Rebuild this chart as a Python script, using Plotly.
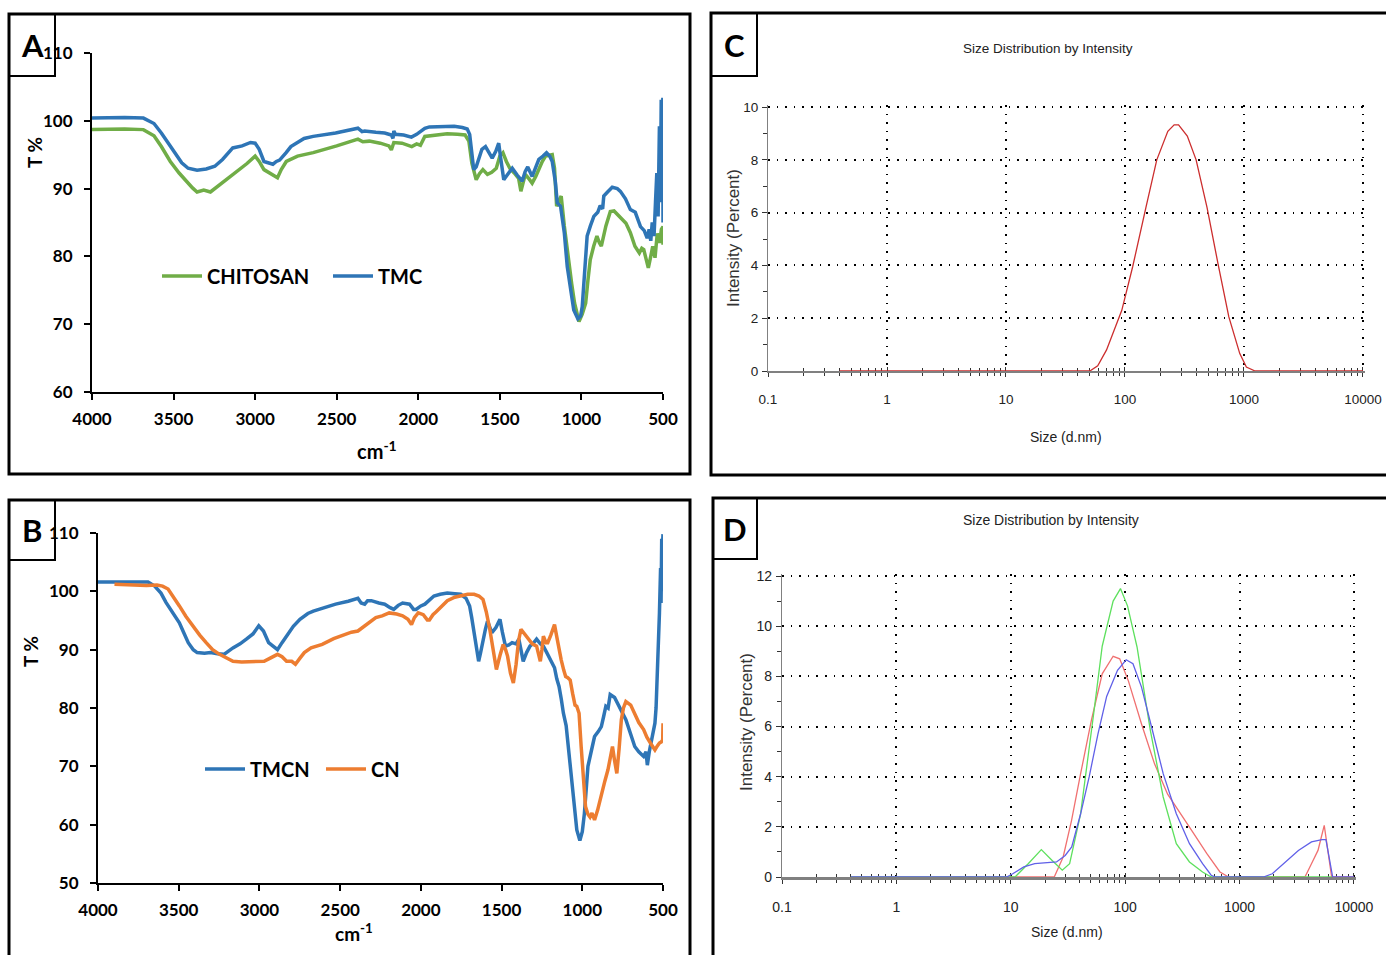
import plotly.graph_objects as go

W, H = 1386, 955

# ---------------- Panel A : FTIR chitosan / TMC ----------------
A_TMC_WN = [4000, 3800, 3685, 3620, 3575, 3530, 3493, 3450, 3411, 3356, 3300, 3247, 3200, 3137, 3080, 3028,
            3000, 2975, 2946, 2915, 2891, 2870, 2850, 2810, 2781, 2700, 2644, 2507, 2400, 2370, 2345, 2329,
            2260, 2206, 2165, 2155, 2150, 2140, 2090, 2042, 2010, 1987, 1960, 1932, 1850, 1780, 1730, 1700,
            1685, 1672, 1660, 1645, 1631, 1610, 1588, 1565, 1547, 1525, 1507, 1495, 1476, 1455, 1424, 1394,
            1363, 1345, 1329, 1302, 1280, 1261, 1235, 1214, 1195, 1179, 1160, 1148, 1128, 1105, 1087, 1065,
            1047, 1022, 1005, 995, 980, 965, 945, 924, 900, 885, 870, 863, 840, 811, 780, 761, 730, 700, 670,
            638, 615, 597, 585, 575, 566, 555, 546, 538, 530, 522, 516, 511, 505, 501, 500]
A_TMC_T = [100.4, 100.5, 100.4, 99.6, 98.2, 96.6, 95.3, 93.8, 93.0, 92.7, 92.9, 93.3, 94.3, 96.0, 96.3, 96.8,
           96.7, 95.8, 94.0, 93.7, 93.6, 94.0, 94.2, 95.3, 96.2, 97.4, 97.7, 98.2, 98.7, 98.9, 98.4, 98.5,
           98.3, 98.2, 97.9, 97.4, 98.5, 98.0, 97.9, 97.6, 98.0, 98.4, 98.9, 99.1, 99.2, 99.2, 99.0, 98.8,
           98.0, 95.5, 92.8, 93.2, 94.2, 95.8, 96.2, 95.2, 94.5, 95.5, 96.7, 94.5, 91.3, 92.0, 93.0, 92.0,
           91.1, 92.5, 93.2, 91.8, 93.0, 94.3, 94.8, 95.3, 94.8, 94.0, 91.0, 87.9, 87.4, 83.5, 78.5, 74.5,
           72.1, 70.8, 71.2, 72.6, 77.5, 83.0, 84.5, 85.9, 86.5, 87.5, 87.0, 88.9, 89.5, 90.2, 90.0, 89.6,
           88.5, 86.9, 86.5, 84.4, 83.8, 82.7, 84.0, 82.3, 85.0, 83.0, 88.0, 92.3, 85.9, 99.2, 88.0, 103.1,
           95.0, 103.4, 85.0]

A_CHI_WN = [4000, 3800, 3685, 3620, 3575, 3520, 3466, 3420, 3384, 3356, 3315, 3274, 3230, 3192, 3150, 3110,
            3050, 3000, 2975, 2946, 2900, 2863, 2840, 2809, 2740, 2644, 2500, 2370, 2340, 2300, 2233, 2180,
            2165, 2150, 2100, 2040, 2010, 1987, 1960, 1900, 1823, 1760, 1713, 1690, 1672, 1645, 1625, 1604,
            1576, 1550, 1522, 1500, 1481, 1460, 1439, 1412, 1385, 1371, 1358, 1344, 1320, 1302, 1280, 1261,
            1240, 1220, 1179, 1165, 1152, 1138, 1124, 1105, 1083, 1060, 1042, 1015, 995, 974, 960, 946, 925,
            905, 890, 878, 850, 823, 800, 782, 750, 727, 700, 672, 645, 630, 618, 600, 590, 575, 563, 549,
            535, 520, 510, 500, 500]
A_CHI_T = [98.7, 98.8, 98.7, 97.8, 96.2, 94.0, 92.3, 91.0, 90.1, 89.5, 89.8, 89.5, 90.3, 91.1, 91.8, 92.5,
           93.7, 94.8, 94.0, 92.8, 92.2, 91.6, 92.8, 94.0, 94.8, 95.3, 96.3, 97.3, 96.9, 97.0, 96.7, 96.3,
           95.7, 96.8, 96.7, 96.2, 96.6, 96.4, 97.7, 97.9, 98.1, 98.0, 97.9, 97.0, 93.8, 91.3, 92.2, 92.8,
           92.1, 92.4, 93.0, 94.8, 95.3, 94.0, 93.0, 92.3, 91.5, 89.6, 91.0, 92.1, 91.4, 90.8, 91.8, 93.0,
           94.0, 94.8, 95.0, 93.0, 87.4, 88.2, 88.9, 84.5, 80.0, 76.0, 73.1, 70.4, 71.5, 73.1, 76.5, 79.5,
           81.5, 83.0, 82.0, 81.5, 84.5, 86.6, 86.7, 86.3, 85.5, 84.9, 83.5, 81.5, 80.5, 81.2, 81.0, 79.5,
           78.3, 80.0, 81.5, 79.8, 83.4, 82.0, 84.0, 84.4, 81.7]

# ---------------- Panel B : FTIR nanoparticles ----------------
B_TMCN_WN = [4000, 3850, 3690, 3649, 3610, 3579, 3540, 3496, 3470, 3441, 3410, 3386, 3340, 3303, 3260, 3220,
             3164, 3120, 3081, 3040, 3004, 2975, 2943, 2910, 2888, 2860, 2832, 2790, 2749, 2700, 2666, 2600,
             2528, 2450, 2390, 2370, 2348, 2330, 2307, 2260, 2224, 2190, 2168, 2140, 2113, 2070, 2045, 2030,
             2000, 1975, 1940, 1919, 1880, 1836, 1790, 1753, 1720, 1698, 1685, 1670, 1656, 1642, 1630, 1615,
             1600, 1587, 1575, 1560, 1535, 1510, 1495, 1476, 1455, 1435, 1410, 1393, 1380, 1366, 1345, 1324,
             1300, 1283, 1260, 1241, 1220, 1200, 1172, 1158, 1144, 1130, 1117, 1100, 1089, 1075, 1062, 1048,
             1034, 1015, 1000, 987, 975, 965, 945, 924, 900, 882, 868, 854, 840, 827, 800, 771, 750, 730, 700,
             675, 650, 620, 605, 597, 585, 578, 565, 550, 543, 536, 529, 522, 515, 512, 508, 505, 502, 500]
B_TMCN_T = [101.6, 101.6, 101.6, 100.9, 99.7, 98.1, 96.5, 94.6, 93.0, 91.2, 90.0, 89.5, 89.4, 89.5, 89.3, 89.2,
            90.3, 91.0, 91.8, 92.7, 94.1, 93.2, 91.2, 90.5, 90.0, 91.2, 92.3, 94.0, 95.2, 96.2, 96.6, 97.2,
            97.8, 98.3, 98.8, 98.0, 97.8, 98.4, 98.4, 98.0, 97.8, 97.2, 96.9, 97.6, 98.0, 97.8, 96.9, 96.9,
            97.5, 97.8, 98.8, 99.2, 99.5, 99.7, 99.6, 99.5, 98.8, 97.5, 95.5, 92.9, 90.0, 88.0, 89.5, 91.8,
            93.5, 94.9, 94.0, 92.9, 93.8, 95.2, 93.0, 90.6, 90.8, 91.2, 91.0, 91.8, 90.0, 88.0, 89.5, 90.6,
            91.2, 91.8, 91.0, 90.6, 89.5, 88.3, 86.9, 85.0, 83.7, 81.5, 79.1, 77.0, 74.0, 70.8, 67.7, 63.0,
            59.1, 57.3, 58.8, 61.9, 66.0, 70.0, 72.5, 75.1, 76.0, 76.8, 78.5, 80.3, 80.0, 82.3, 81.8, 80.3,
            79.3, 78.0, 75.5, 73.4, 72.5, 71.7, 72.5, 70.2, 72.5, 73.4, 75.0, 77.4, 80.0, 84.9, 88.0, 96.3,
            104.0, 98.0, 109.0, 100.0, 108.5, 109.8]

B_CN_WN = [3898, 3773, 3700, 3635, 3600, 3566, 3530, 3496, 3455, 3413, 3370, 3330, 3290, 3247, 3200, 3164,
           3110, 3054, 3000, 2971, 2930, 2888, 2860, 2832, 2800, 2777, 2750, 2722, 2680, 2611, 2540, 2473,
           2430, 2390, 2340, 2279, 2240, 2196, 2150, 2113, 2080, 2058, 2040, 2016, 1985, 1960, 1947, 1925,
           1905, 1870, 1836, 1790, 1753, 1710, 1670, 1640, 1615, 1595, 1573, 1552, 1532, 1510, 1490, 1475,
           1463, 1445, 1427, 1410, 1395, 1380, 1360, 1338, 1310, 1283, 1260, 1250, 1241, 1225, 1214, 1195,
           1172, 1160, 1145, 1131, 1115, 1103, 1090, 1075, 1060, 1045, 1034, 1020, 1007, 995, 980, 965, 952,
           940, 924, 905, 882, 860, 841, 825, 813, 800, 786, 772, 758, 745, 730, 700, 675, 650, 620, 600,
           578, 565, 550, 535, 522, 510, 502, 500]
B_CN_T = [101.2, 101.1, 101.0, 101.1, 100.9, 100.4, 99.0, 97.5, 95.7, 94.1, 92.5, 91.2, 90.0, 89.2, 88.5, 88.0,
          87.9, 87.9, 88.0, 88.0, 88.6, 89.2, 88.8, 88.0, 88.0, 87.5, 88.5, 89.5, 90.3, 90.9, 91.9, 92.6,
          93.0, 93.2, 94.3, 95.5, 95.8, 96.3, 96.1, 95.8, 95.2, 94.3, 95.5, 96.3, 96.0, 95.1, 95.1, 96.0,
          96.5, 97.5, 98.4, 99.0, 99.3, 99.5, 99.5, 99.2, 98.6, 96.5, 93.5, 89.5, 86.6, 89.0, 90.9, 90.0,
          88.9, 86.0, 84.3, 87.5, 91.5, 93.5, 92.8, 91.8, 91.0, 90.6, 88.0, 90.0, 92.3, 91.2, 91.2, 92.5,
          94.3, 92.5, 90.0, 88.3, 86.5, 85.4, 85.2, 84.8, 82.5, 80.5, 80.3, 79.1, 73.4, 68.0, 63.1, 61.8, 61.3,
          62.0, 60.8, 62.5, 65.4, 67.5, 69.4, 71.5, 73.4, 71.0, 68.8, 73.0, 78.0, 80.0, 81.1, 80.5, 79.1, 77.5,
          76.3, 75.0, 74.0, 73.5, 72.8, 73.5, 74.0, 74.2, 74.5, 77.4]

# ---------------- Panel C : DLS single distribution ----------------
C_SIZE = [0.4, 50.7, 59, 70, 94, 116, 150, 185, 229, 259, 282, 334, 396, 489, 604, 746, 922, 1047, 1240, 10000]
C_INT = [0, 0, 0.2, 0.8, 2.3, 3.95, 6.2, 8.0, 9.08, 9.33, 9.33, 8.9, 8.0, 6.2, 4.08, 2.05, 0.66, 0.15, 0, 0]

# ---------------- Panel D : DLS three runs ----------------
D_RED_SIZE = [0.4, 24, 28.7, 34, 40.7, 50.7, 63, 78.5, 89.6, 107, 139, 181, 235, 293, 381, 518, 674, 803,
              3730, 4253, 4850, 5500, 6385, 10000]
D_RED_INT = [0, 0, 0.8, 2.26, 4.1, 6.25, 8.1, 8.8, 8.7, 7.8, 6.1, 4.5, 3.3, 2.66, 1.86, 0.93, 0.2, 0,
             0, 0.53, 1.06, 2.06, 0, 0]
D_GREEN_SIZE = [0.4, 10.9, 14.2, 18.5, 23, 28.2, 32.7, 40.7, 53, 63, 78.5, 91, 105, 127, 166, 215, 280, 365,
                475, 565, 6400]
D_GREEN_INT = [0, 0, 0.53, 1.09, 0.66, 0.27, 0.53, 2.5, 6.5, 9.2, 11.0, 11.5, 10.8, 9.17, 5.85, 3.19, 1.33,
               0.6, 0.2, 0, 0]
D_BLUE_SIZE = [0.4, 9.2, 10.4, 13, 16.2, 20.2, 25.1, 29.9, 34.1, 40.7, 48.5, 57.8, 68.9, 85.7, 102, 117, 139,
               173, 215, 280, 365, 475, 565, 617, 1616, 1932, 2513, 3268, 4253, 5250, 5690, 6520, 10000]
D_BLUE_INT = [0, 0, 0.13, 0.4, 0.53, 0.56, 0.6, 0.86, 1.2, 2.5, 4.0, 5.7, 7.2, 8.24, 8.66, 8.5, 7.57, 5.85,
              4.12, 2.52, 1.33, 0.53, 0.07, 0, 0, 0.13, 0.6, 1.06, 1.4, 1.49, 1.49, 0, 0]

FTIR_TICKS = [4000, 3500, 3000, 2500, 2000, 1500, 1000, 500]
LOG_TICKS = [0.1, 1, 10, 100, 1000, 10000]
LOG_TICKTEXT = ["0.1", "1", "10", "100", "1000", "10000"]
LOG_MINOR = [m * d for d in (0.1, 1, 10, 100, 1000) for m in range(2, 10)]

BLUE, GREEN, ORANGE = "#2E75B6", "#70AD47", "#ED7D31"


def X(px):
    return px / W


def Y(py):
    return 1 - py / H


BOLD = dict(family="Lato, Open Sans, sans-serif", weight="bold", color="black")
SANS = "Liberation Sans, Arial, sans-serif"

fig = go.Figure()

# Panel A traces
fig.add_trace(go.Scatter(x=A_CHI_WN, y=A_CHI_T, mode="lines", name="CHITOSAN",
                         line=dict(color=GREEN, width=3.5), xaxis="x", yaxis="y", legend="legend"))
fig.add_trace(go.Scatter(x=A_TMC_WN, y=A_TMC_T, mode="lines", name="TMC",
                         line=dict(color=BLUE, width=3.5), xaxis="x", yaxis="y", legend="legend"))
# Panel B traces
fig.add_trace(go.Scatter(x=B_TMCN_WN, y=B_TMCN_T, mode="lines", name="TMCN",
                         line=dict(color=BLUE, width=3.5), xaxis="x2", yaxis="y2", legend="legend2"))
fig.add_trace(go.Scatter(x=B_CN_WN, y=B_CN_T, mode="lines", name="CN",
                         line=dict(color=ORANGE, width=3.5), xaxis="x2", yaxis="y2", legend="legend2"))
# Panel C trace
fig.add_trace(go.Scatter(x=C_SIZE, y=C_INT, mode="lines", showlegend=False,
                         line=dict(color="#cc2e2e", width=1.3), xaxis="x3", yaxis="y3"))
# Panel D traces
fig.add_trace(go.Scatter(x=D_RED_SIZE, y=D_RED_INT, mode="lines", showlegend=False,
                         line=dict(color="#f07070", width=1.3), xaxis="x4", yaxis="y4"))
fig.add_trace(go.Scatter(x=D_GREEN_SIZE, y=D_GREEN_INT, mode="lines", showlegend=False,
                         line=dict(color="#5ee05e", width=1.3), xaxis="x4", yaxis="y4"))
fig.add_trace(go.Scatter(x=D_BLUE_SIZE, y=D_BLUE_INT, mode="lines", showlegend=False,
                         line=dict(color="#6060e8", width=1.3), xaxis="x4", yaxis="y4"))
# invisible carriers for the overlay tick axes (crossing ticks)
fig.add_trace(go.Scatter(x=C_SIZE, y=C_INT, mode="lines", showlegend=False, hoverinfo="skip",
                         line=dict(width=0), opacity=0, xaxis="x5", yaxis="y3"))
fig.add_trace(go.Scatter(x=D_BLUE_SIZE, y=D_BLUE_INT, mode="lines", showlegend=False, hoverinfo="skip",
                         line=dict(width=0), opacity=0, xaxis="x6", yaxis="y4"))


def ftir_x(domain, anchor):
    return dict(domain=domain, anchor=anchor, range=[4000, 500], autorange=False,
                tickmode="array", tickvals=FTIR_TICKS, ticks="outside", ticklen=6, tickwidth=2,
                tickcolor="black", showline=True, linecolor="black", linewidth=2, showgrid=False,
                zeroline=False, tickfont=dict(size=17, **BOLD), ticklabelstandoff=5)


def ftir_y(domain, anchor, rng, dtick):
    return dict(domain=domain, anchor=anchor, range=rng, autorange=False, dtick=dtick, tick0=rng[0],
                ticks="outside", ticklen=6, tickwidth=2, tickcolor="black", showline=True,
                linecolor="black", linewidth=2, showgrid=False, zeroline=False,
                tickfont=dict(size=17, **BOLD), ticklabelstandoff=8)


def dls_x(domain, anchor, lw, ticks, fs, pad, showlabels=True, overlay=None):
    d = dict(domain=domain, anchor=anchor, type="log", range=[-1, 4 + pad], autorange=False,
             tickmode="array", tickvals=LOG_TICKS, ticktext=LOG_TICKTEXT,
             ticks=ticks, ticklen=4, tickwidth=1, tickcolor="#333333",
             minor=dict(tickmode="array", tickvals=LOG_MINOR, ticks=ticks, ticklen=3, tickwidth=1,
                        tickcolor="#333333", showgrid=False),
             showticklabels=showlabels, zeroline=False, layer="below traces",
             tickfont=dict(family=SANS, size=fs, color="#222222"), ticklabelstandoff=11)
    if overlay:
        d.update(overlaying=overlay, showline=False, showgrid=False)
    else:
        d.update(showline=True, linecolor="#808080", linewidth=lw, showgrid=True,
                 gridcolor="black", gridwidth=1.6, griddash="1.6px,7px")
    return d


def dls_y(domain, anchor, top, pad, fs):
    return dict(domain=domain, anchor=anchor, range=[0, top + pad], autorange=False, dtick=2, tick0=0,
                ticks="outside", ticklen=5, tickwidth=1, tickcolor="#333333",
                minor=dict(dtick=1, tick0=1, ticks="outside", ticklen=4, tickwidth=1, tickcolor="#333333",
                           showgrid=False),
                showline=True, linecolor="#808080", linewidth=1.2, showgrid=True, gridcolor="black",
                gridwidth=1.6, griddash="1.6px,7px", zeroline=False, layer="below traces",
                tickfont=dict(family=SANS, size=fs, color="#222222"), ticklabelstandoff=1)


fig.update_layout(
    width=W, height=H, margin=dict(l=0, r=0, t=0, b=0, pad=0, autoexpand=False),
    paper_bgcolor="white", plot_bgcolor="rgba(0,0,0,0)",
    xaxis=ftir_x([X(92), X(663)], "y"),
    yaxis=ftir_y([Y(392), Y(53)], "x", [60, 110], 10),
    xaxis2=ftir_x([X(98), X(663)], "y2"),
    yaxis2=ftir_y([Y(883), Y(533)], "x2", [50, 110], 10),
    xaxis3=dls_x([X(768), X(1365)], "y3", 2.2, "outside", 13.5, 0.017),
    yaxis3=dls_y([Y(371), Y(105)], "x3", 10, 0.08, 13.5),
    xaxis4=dls_x([X(782), X(1356)], "y4", 3, "outside", 14, 0.018),
    yaxis4=dls_y([Y(877), Y(574)], "x4", 12, 0.08, 14),
    xaxis5=dls_x([X(768), X(1365)], "y3", 0, "inside", 13.5, 0.017, showlabels=False, overlay="x3"),
    xaxis6=dls_x([X(782), X(1356)], "y4", 0, "inside", 14, 0.018, showlabels=False, overlay="x4"),
    legend=dict(orientation="h", x=X(157), y=Y(276), xanchor="left", yanchor="middle",
                font=dict(size=20, **BOLD), bgcolor="rgba(0,0,0,0)", itemwidth=40, entrywidth=116),
    legend2=dict(orientation="h", x=X(200), y=Y(769), xanchor="left", yanchor="middle",
                 font=dict(size=20, **BOLD), bgcolor="rgba(0,0,0,0)", itemwidth=40, entrywidth=66),
    showlegend=True,
)
fig.update_xaxes(tickangle=0)

# frames and label boxes
frames = [(9, 14, 690, 474), (9, 500, 690, 965), (711, 13, 1395, 475), (713, 498, 1395, 965)]
boxes = [(9, 14, 55, 76), (9, 500, 55, 560), (711, 13, 757, 76), (713, 498, 757, 559)]
shapes = []
for x0, y0, x1, y1 in frames:
    shapes.append(dict(type="rect", xref="paper", yref="paper", x0=X(x0), x1=X(x1), y0=Y(y1), y1=Y(y0),
                       line=dict(color="black", width=3), fillcolor="rgba(0,0,0,0)", layer="above"))
for x0, y0, x1, y1 in boxes:
    shapes.append(dict(type="rect", xref="paper", yref="paper", x0=X(x0), x1=X(x1), y0=Y(y1), y1=Y(y0),
                       line=dict(color="black", width=2), fillcolor="rgba(0,0,0,0)", layer="above"))
fig.update_layout(shapes=shapes)


def ann(text, px, py, font, angle=0):
    return dict(text=text, x=X(px), y=Y(py), xref="paper", yref="paper", showarrow=False,
                xanchor="center", yanchor="middle", textangle=angle, font=font)


annotations = [
    ann("A", 32, 45, dict(size=31, **BOLD)),
    ann("B", 32, 530, dict(size=31, **BOLD)),
    ann("C", 734, 45, dict(size=31, **BOLD)),
    ann("D", 735, 529, dict(size=31, **BOLD)),
    ann("T %", 34, 153, dict(size=19, **BOLD), -90),
    ann("T %", 30, 652, dict(size=19, **BOLD), -90),
    ann("cm<sup>-1</sup>", 377, 450, dict(size=20, **BOLD)),
    ann("cm<sup>-1</sup>", 354, 932, dict(size=19, **BOLD)),
    ann("Size Distribution by Intensity", 1048, 48, dict(family=SANS, size=13.5, color="#222222")),
    ann("Size Distribution by Intensity", 1051, 520, dict(family=SANS, size=14, color="#222222")),
    ann("Size (d.nm)", 1066, 437, dict(family=SANS, size=14, color="#222222")),
    ann("Size (d.nm)", 1067, 932, dict(family=SANS, size=14, color="#222222")),
    ann("Intensity (Percent)", 733, 238, dict(family=SANS, size=17, color="#333333"), -90),
    ann("Intensity (Percent)", 746, 722, dict(family=SANS, size=17, color="#333333"), -90),
]
fig.update_layout(annotations=annotations)

fig.write_html("out.html")
